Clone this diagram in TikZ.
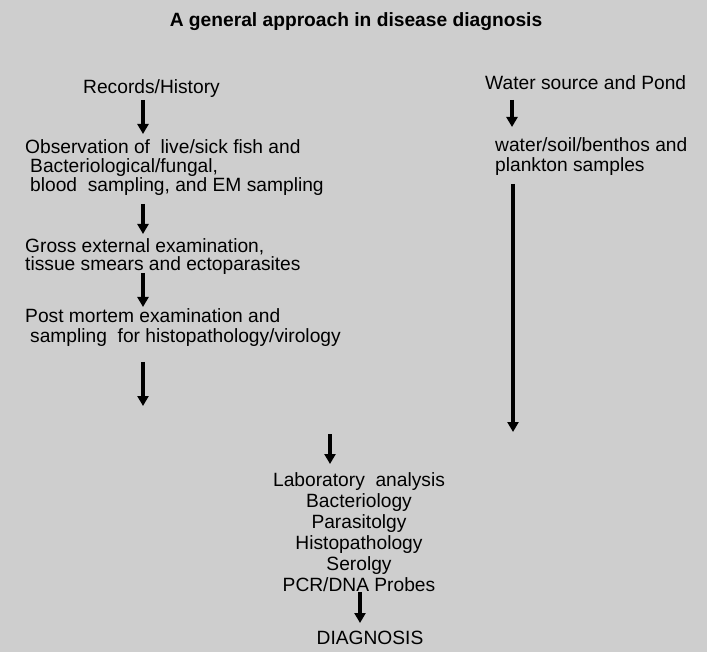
\documentclass[tikz,border=0pt]{standalone}
\usepackage{fontspec}
\setmainfont{Liberation Sans}
\usetikzlibrary{arrows.meta}
\definecolor{scan}{RGB}{206,206,206}
\begin{document}
\begin{tikzpicture}[x=1pt,y=-1pt,
  txt/.style={font=\fontsize{19.2}{20}\selectfont, inner sep=0pt, anchor=base west, align=left},
  ctr/.style={font=\fontsize{19.2}{21}\selectfont, inner sep=0pt, anchor=base, align=center},
  flow/.style={line width=3.2pt, -{Triangle[width=11pt,length=10pt]}}]
\fill[scan] (0,0) rectangle (707,652);
\useasboundingbox (0,0) rectangle (707,652);

\node[ctr, font=\bfseries\fontsize{19.2}{20}\selectfont] (title) at (356,27) {A general approach in disease diagnosis};

\node[txt] (rec) at (83,94) {Records/History};
\node[txt] (water) at (485,90) {Water source and Pond};

\node[txt] (obs1) at (25,154) {Observation of\ \ live/sick fish and};
\node[txt] (obs2) at (30,173) {Bacteriological/fungal,};
\node[txt] (obs3) at (30,192) {blood\ \ sampling, and EM sampling};

\node[txt] (gross1) at (25,253) {Gross external examination,};
\node[txt] (gross2) at (25,271) {tissue smears and ectoparasites};

\node[txt] (pm1) at (25,323) {Post mortem examination and};
\node[txt] (pm2) at (30,343) {sampling\ \ for histopathology/virology};

\node[txt] (ws1) at (495,152) {water/soil/benthos and};
\node[txt] (ws2) at (495,172) {plankton samples};

\node[ctr] (lab) at (359,591) {Laboratory\ \ analysis\\Bacteriology\\Parasitolgy\\Histopathology\\Serolgy\\PCR/DNA Probes};
\node[ctr] (diag) at (370,644) {DIAGNOSIS};

\coordinate (a1s) at (143,100); \coordinate (a1e) at (143,134);
\coordinate (a2s) at (143,204); \coordinate (a2e) at (143,234);
\coordinate (a3s) at (143,273); \coordinate (a3e) at (143,307);
\coordinate (a4s) at (143,362); \coordinate (a4e) at (143,406);
\coordinate (b1s) at (512,100); \coordinate (b1e) at (512,127);
\coordinate (b2s) at (513,184); \coordinate (b2e) at (513,432);
\coordinate (c1s) at (330,434); \coordinate (c1e) at (330,464);
\coordinate (c2s) at (360,592); \coordinate (c2e) at (360,623);

\draw[flow] (a1s) -- (a1e);
\draw[flow] (a2s) -- (a2e);
\draw[flow] (a3s) -- (a3e);
\draw[flow] (a4s) -- (a4e);
\draw[flow] (b1s) -- (b1e);
\draw[flow] (b2s) -- (b2e);
\draw[flow] (c1s) -- (c1e);
\draw[flow] (c2s) -- (c2e);
\end{tikzpicture}
\end{document}
